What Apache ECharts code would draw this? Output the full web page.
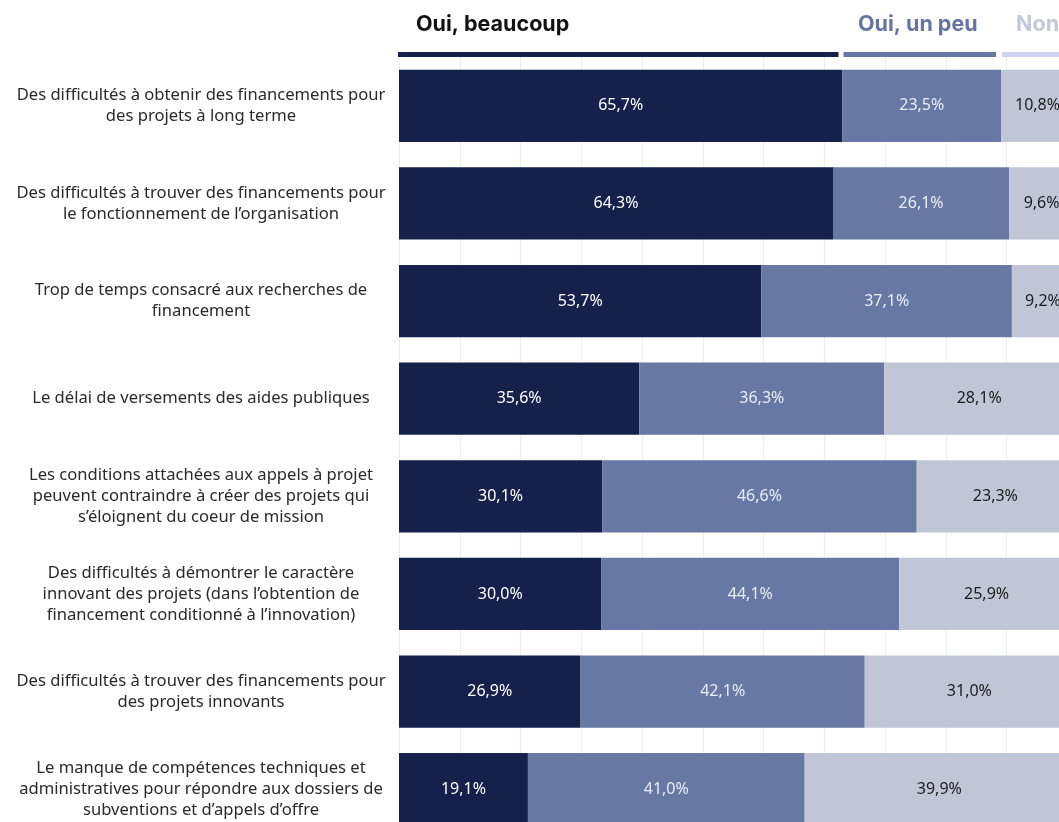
<!DOCTYPE html>
<html>
<head>
<meta charset="utf-8">
<script src="https://cdn.jsdelivr.net/npm/echarts@6/dist/echarts.min.js"></script>
<style>
    html, body {margin: 0; padding: 0; background: #fff; overflow: hidden;}
    /* the original is cropped on the right and bottom: draw larger, let the window clip it */
    #main {width: 1075px; height: 838px;}
</style>
</head>
<body>
<div id="main"></div>
<script>
// questions (line breaks as in the original)
var categories = [
    'Des difficultés à obtenir des financements pour\ndes projets à long terme',
    'Des difficultés à trouver des financements pour\nle fonctionnement de l’organisation',
    'Trop de temps consacré aux recherches de\nfinancement',
    'Le délai de versements des aides publiques',
    'Les conditions attachées aux appels à projet\npeuvent contraindre à créer des projets qui\ns’éloignent du coeur de mission',
    'Des difficultés à démontrer le caractère\ninnovant des projets (dans l’obtention de\nfinancement conditionné à l’innovation)',
    'Des difficultés à trouver des financements pour\ndes projets innovants',
    'Le manque de compétences techniques et\nadministratives pour répondre aux dossiers de\nsubventions et d’appels d’offre'
];
var seriesNames = ['Oui, beaucoup', 'Oui, un peu', 'Non'];
var beaucoup = [65.7, 64.3, 53.7, 35.6, 30.1, 30.0, 26.9, 19.1];
var unPeu = [23.5, 26.1, 37.1, 36.3, 46.6, 44.1, 42.1, 41.0];
var non = [10.8, 9.6, 9.2, 28.1, 23.3, 25.9, 31.0, 39.9];

var colors = ['#16214b', '#6878a4', '#c1c6d6'];
var headColors = ['#111111', '#6575a3', '#c4c9da'];
var lineColors = ['#16214b', '#6878a4', '#cfd2f0'];

var fmt = function (p) {
    return p.value.toFixed(1).replace('.', ',') + '%';
};

function mkSeries(name, data, i, txt) {
    return {
        name: name,
        type: 'bar',
        stack: 'total',
        barWidth: '74%',
        data: data,
        itemStyle: {color: colors[i]},
        label: {
            show: true,
            position: 'inside',
            formatter: fmt,
            color: txt,
            fontSize: 16,
            fontFamily: 'Noto Sans'
        },
        emphasis: {disabled: true}
    };
}

var chart = echarts.init(document.getElementById('main'));
var option = {
    animation: false,
    grid: {left: 399, right: 1, top: 57, bottom: 0, containLabel: false},
    xAxis: {
        type: 'value',
        min: 0,
        max: 100,
        interval: 9,
        axisLabel: {show: false},
        axisLine: {show: false},
        axisTick: {show: false},
        splitLine: {show: true, lineStyle: {color: '#eceef3', width: 1}}
    },
    yAxis: {
        type: 'category',
        inverse: true,
        data: categories,
        axisLine: {show: false},
        axisTick: {show: false},
        axisLabel: {
            align: 'center',
            margin: 198,
            color: '#2a2a2a',
            fontSize: 16.6,
            lineHeight: 21,
            fontFamily: 'Noto Sans'
        }
    },
    series: [
        mkSeries(seriesNames[0], beaucoup, 0, '#ffffff'),
        mkSeries(seriesNames[1], unPeu, 1, '#e9ecf4'),
        mkSeries(seriesNames[2], non, 2, '#1c1c1c')
    ]
};
chart.setOption(option);

// header: coloured lines over the first row's segments + names
var first = [beaucoup[0], unPeu[0], non[0]];
var els = [];
var acc = 0;
for (var i = 0; i < 3; i++) {
    var x0 = chart.convertToPixel({xAxisIndex: 0}, acc);
    acc += first[i];
    var x1 = chart.convertToPixel({xAxisIndex: 0}, acc);
    els.push({
        type: 'rect',
        shape: {x: x0 + (i == 0 ? -1 : 1), y: 52, width: x1 - x0 - (i == 0 ? 3 : 6), height: 5},
        style: {fill: lineColors[i]}
    });
    els.push({
        type: 'text',
        x: i == 0 ? x0 + 17 : (x0 + x1) / 2 - (i == 1 ? 4 : 0),
        y: 25,
        style: {
            text: seriesNames[i],
            fill: headColors[i],
            font: 'bold 21.5px Inter',
            align: i == 0 ? 'left' : 'center',
            verticalAlign: 'middle'
        }
    });
}
chart.setOption({graphic: {elements: els}});
</script>
</body>
</html>
